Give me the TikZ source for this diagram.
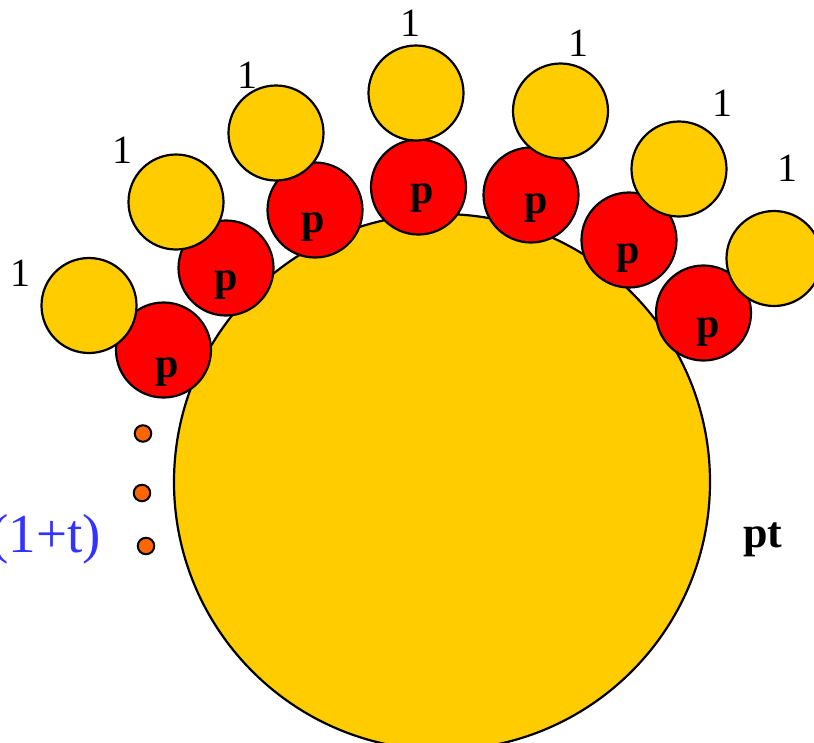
\documentclass[tikz,border=0pt]{standalone}
\usepackage{fontspec}
\setmainfont{Liberation Serif}
\definecolor{goldY}{HTML}{FFCC00}
\definecolor{redP}{HTML}{FF0000}
\definecolor{dotO}{HTML}{FF6600}
\definecolor{blueT}{HTML}{3333FF}
\begin{document}
\begin{tikzpicture}[x=1pt,y=-1pt,
  bigc/.style={circle,draw=black,line width=2.2pt,fill=goldY,minimum size=536pt,inner sep=0pt},
  ycirc/.style={circle,draw=black,line width=2.2pt,fill=goldY,minimum size=95pt,inner sep=0pt},
  rcirc/.style={circle,draw=black,line width=2.2pt,fill=redP,minimum size=95pt,inner sep=0pt},
  dotc/.style={circle,draw=black,line width=2pt,fill=dotO,minimum size=16.5pt,inner sep=0pt},
  onelab/.style={inner sep=0pt,anchor=center,font=\fontsize{40}{48}\selectfont},
  plab/.style={inner sep=0pt,anchor=base,font=\fontsize{42}{50}\selectfont\bfseries}]
\useasboundingbox (0,0) rectangle (814,742);
% big circle
\node[bigc] (big) at (442,482) {};
% red circles
\node[rcirc] (r1) at (163.5,350) {};
\node[rcirc] (r2) at (226,268) {};
\node[rcirc] (r3) at (315,210) {};
\node[rcirc] (r4) at (418.5,187) {};
\node[rcirc] (r5) at (531,195) {};
\node[rcirc] (r6) at (629,240) {};
\node[rcirc] (r7) at (703.5,313) {};
% yellow circles
\node[ycirc] (y1) at (89,305.5) {};
\node[ycirc] (y2) at (176,202) {};
\node[ycirc] (y3) at (276,133) {};
\node[ycirc] (y4) at (416,93) {};
\node[ycirc] (y5) at (560.5,111) {};
\node[ycirc] (y6) at (679,169) {};
\node[ycirc] (y7) at (774,258.5) {};
% p labels
\node[plab] (p1) at (167,377) {p};
\node[plab] (p2) at (226,290) {p};
\node[plab] (p3) at (313,232) {p};
\node[plab] (p4) at (422,203) {p};
\node[plab] (p5) at (536,213) {p};
\node[plab] (p6) at (628,263) {p};
\node[plab] (p7) at (708,337) {p};
% 1 labels
\node[onelab] (l1) at (20,273) {1};
\node[onelab] (l2) at (122,150) {1};
\node[onelab] (l3) at (247,75) {1};
\node[onelab] (l4) at (410,23) {1};
\node[onelab] (l5) at (578,43) {1};
\node[onelab] (l6) at (722,103) {1};
\node[onelab] (l7) at (787,168) {1};
% dots
\node[dotc] (d1) at (143,433.5) {};
\node[dotc] (d2) at (142,493) {};
\node[dotc] (d3) at (146,546) {};
% side labels
\node[inner sep=0pt,anchor=base east,text=blueT,font=\fontsize{55}{60}\selectfont] (ot) at (101,552) {(1+t)};
\node[inner sep=0pt,anchor=base west,font=\fontsize{44}{52}\selectfont\bfseries] (pt) at (743,547) {pt};
\end{tikzpicture}
\end{document}
